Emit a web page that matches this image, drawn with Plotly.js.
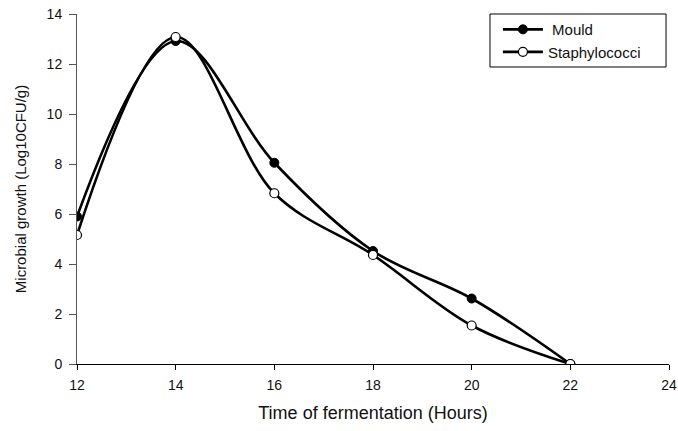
<!DOCTYPE html>
<html>
<head>
<meta charset="utf-8">
<script src="https://cdn.plot.ly/plotly-3.0.1.min.js"></script>
<style>html,body{margin:0;padding:0;background:#fff;}#chart{width:678px;height:431px;}</style>
</head>
<body>
<div id="chart"></div>
<script>
var hours = [12, 14, 16, 18, 20, 22];
var mould = [5.9, 12.92, 8.05, 4.52, 2.62, 0.0];
var staphylococci = [5.16, 13.08, 6.83, 4.36, 1.54, 0.0];
var xTicks = [12, 14, 16, 18, 20, 22, 24];
var yTicks = [0, 2, 4, 6, 8, 10, 12, 14];

var font = 'Liberation Sans, Arial, sans-serif';

var traces = [
  {
    x: hours, y: mould, name: ' Mould', type: 'scatter', mode: 'lines+markers',
    line: {color: '#000', width: 2.6, shape: 'spline', smoothing: 1},
    marker: {color: '#000', size: 9, line: {color: '#000', width: 1}}
  },
  {
    x: hours, y: staphylococci, name: 'Staphylococci', type: 'scatter', mode: 'lines+markers',
    line: {color: '#000', width: 2.6, shape: 'spline', smoothing: 1},
    marker: {color: '#fff', size: 9, line: {color: '#000', width: 1.2}}
  }
];

var layout = {
  width: 678, height: 431,
  margin: {l: 77, r: 9, t: 14, b: 67},
  paper_bgcolor: '#fff', plot_bgcolor: '#fff',
  font: {family: font, size: 14, color: '#111'},
  showlegend: true,
  legend: {
    x: 0.711, y: 0.924, xanchor: 'left', yanchor: 'middle',
    borderwidth: 0, bgcolor: 'rgba(0,0,0,0)',
    font: {family: font, size: 15, color: '#111'},
    tracegroupgap: 0, itemwidth: 40
  },
  xaxis: {
    range: [12, 24], tickvals: xTicks, ticktext: xTicks.map(String),
    showgrid: false, zeroline: false, showline: true, linecolor: '#000', linewidth: 1,
    ticks: 'outside', ticklen: 5, tickcolor: '#000', ticklabelstandoff: 3,
    tickfont: {family: font, size: 14, color: '#111'},
    title: {text: 'Time of fermentation (Hours)', font: {family: font, size: 18, color: '#111'}, standoff: 14}
  },
  yaxis: {
    range: [0, 14], tickvals: yTicks, ticktext: yTicks.map(String),
    showgrid: false, zeroline: false, showline: true, linecolor: '#555', linewidth: 1,
    ticks: 'outside', ticklen: 7, tickcolor: '#555', ticklabelstandoff: 4,
    tickfont: {family: font, size: 14, color: '#111'},
    title: {text: 'Microbial growth (Log10CFU/g)', font: {family: font, size: 15, color: '#111'}, standoff: 16}
  },
  shapes: [
    {type: 'rect', xref: 'paper', yref: 'paper', x0: 0.6976, x1: 0.995, y0: 0.8486, y1: 1.0,
     line: {color: '#000', width: 1}, fillcolor: 'rgba(0,0,0,0)', layer: 'above'},
    {type: 'line', xref: 'paper', yref: 'paper', x0: 0.64, x1: 1.0, y0: -0.215, y1: -0.215,
     line: {color: '#ddd', width: 1}}
  ]
};

Plotly.newPlot('chart', traces, layout, {displayModeBar: false, staticPlot: true});
</script>
</body>
</html>
